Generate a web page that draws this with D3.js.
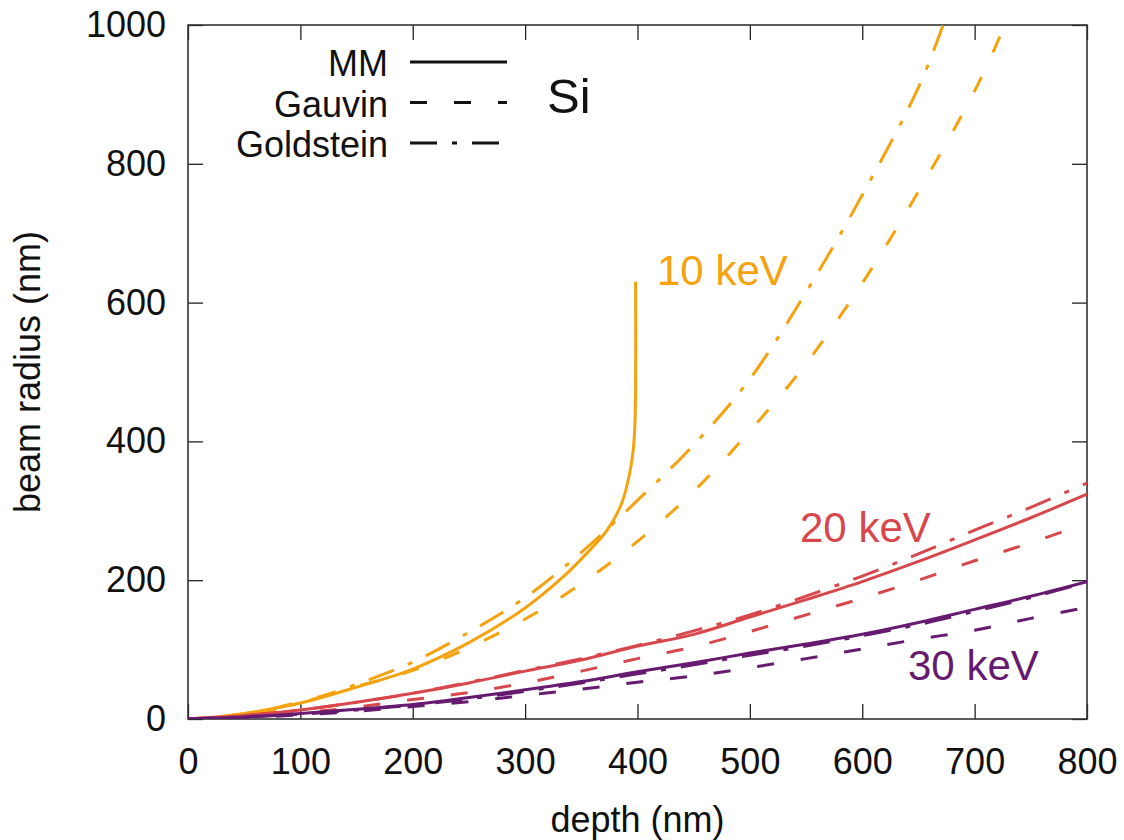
<!DOCTYPE html>
<html>
<head>
<meta charset="utf-8">
<script src="https://cdn.jsdelivr.net/npm/d3@7"></script>
<style>
  body { margin: 0; background: white; }
  text { font-family: "Liberation Sans", Arial, sans-serif; }
</style>
</head>
<body>
<div id="chart"></div>
<script>
// tick labels and categories
var xTicks = [0, 100, 200, 300, 400, 500, 600, 700, 800];
var yTicks = [0, 200, 400, 600, 800, 1000];
var energies = ["10 keV", "20 keV", "30 keV"];
var models = ["MM", "Gauvin", "Goldstein"];

// 10 keV  (depth nm, beam radius nm)
var mm10 = [[0,0],[25,3],[50,8],[100,23],[150,46],[200,72],[250,110],[300,160],[334,205],[355,239],
            [373,272],[386,311],[393,354],[396,385],[397.6,420],[398.3,469],[398.3,630]];
var gauvin10 = [[0,0],[50,7],[100,25],[150,47],[200,70],[250,103],[300,144],[350,195],[400,256],
                [450,328],[500,415],[550,512],[600,628],[650,760],[700,905],[727,1000]];
var goldstein10 = [[0,0],[50,6],[100,23],[150,50],[200,82],[250,125],[300,175],[350,240],[400,315],
                   [450,395],[500,490],[550,615],[600,755],[650,910],[672,1000]];

// 20 keV
var mm20 = [[0,0],[50,5],[100,13],[150,24],[200,37],[250,52],[300,69],[350,85],[400,105],[450,122],
            [500,147],[550,172],[600,198],[650,227],[700,258],[750,290],[800,324]];
var gauvin20 = [[0,0],[50,3],[100,9],[150,17],[200,28],[250,38],[300,52],[350,69],[400,87],[450,104],
                [500,126],[550,150],[600,174],[650,200],[700,228],[750,254],[800,282]];
var goldstein20 = [[0,0],[50,5],[100,13],[150,24],[200,37],[250,53],[300,70],[350,87],[400,106],[450,127],
                   [500,150],[550,177],[600,206],[650,238],[700,272],[750,305],[800,340]];

// 30 keV
var mm30 = [[0,0],[50,3],[100,8],[150,14],[200,21],[250,31],[300,42],[350,54],[400,68],[450,81],
            [500,95],[550,108],[600,122],[650,139],[700,158],[750,177],[800,198]];
var gauvin30 = [[0,0],[50,2],[100,6],[150,11],[200,18],[250,25],[300,34],[350,43],[400,53],[450,62],
                [500,74],[550,87],[600,101],[650,115],[700,128],[750,145],[800,161]];
var goldstein30 = [[0,0],[50,3],[100,7],[150,13],[200,20],[250,29],[300,40],[350,52],[400,65],[450,78],
                   [500,92],[550,105],[600,120],[650,136],[700,155],[750,175],[800,197]];

var series = [
  { energy: "10 keV", model: "MM", values: mm10 },
  { energy: "10 keV", model: "Gauvin", values: gauvin10 },
  { energy: "10 keV", model: "Goldstein", values: goldstein10 },
  { energy: "20 keV", model: "MM", values: mm20 },
  { energy: "20 keV", model: "Gauvin", values: gauvin20 },
  { energy: "20 keV", model: "Goldstein", values: goldstein20 },
  { energy: "30 keV", model: "MM", values: mm30 },
  { energy: "30 keV", model: "Gauvin", values: gauvin30 },
  { energy: "30 keV", model: "Goldstein", values: goldstein30 }
];

var colour = d3.scaleOrdinal().domain(energies).range(["#f5a20e", "#d7474c", "#661b70"]);
var dash = d3.scaleOrdinal().domain(models).range(["none", "17,27", "27,15,5,15"]);

var width = 1124, height = 840;
var plotLeft = 188, plotRight = 1087, plotTop = 25, plotBottom = 719;

var x = d3.scaleLinear().domain([0, 800]).range([plotLeft, plotRight]);
var y = d3.scaleLinear().domain([0, 1000]).range([plotBottom, plotTop]);

var svg = d3.select("#chart").append("svg")
            .attr("width", width)
            .attr("height", height)
            .attr("display", "block");

svg.append("clipPath").attr("id", "plot-clip")
   .append("rect")
   .attr("x", plotLeft).attr("y", plotTop)
   .attr("width", plotRight - plotLeft).attr("height", plotBottom - plotTop);

function styleAxis(g) {
  g.select(".domain").remove();
  g.selectAll("text").attr("font-size", 36).attr("fill", "#111")
   .style("font-family", "'Liberation Sans', Arial, sans-serif");
  g.selectAll("line").attr("stroke", "#222").attr("stroke-width", 1.3);
}

// axes, ticks pointing inward, mirrored on all four sides
var tickLen = 15;
svg.append("g")
   .attr("transform", "translate(0," + plotBottom + ")")
   .call(d3.axisBottom(x).tickValues(xTicks).tickFormat(d3.format("d"))
           .tickSizeInner(-tickLen).tickSizeOuter(0).tickPadding(29))
   .call(styleAxis);
svg.append("g")
   .attr("transform", "translate(0," + plotTop + ")")
   .call(d3.axisTop(x).tickValues(xTicks).tickSizeInner(-tickLen).tickSizeOuter(0).tickFormat(""))
   .call(styleAxis);
svg.append("g")
   .attr("transform", "translate(" + plotLeft + ",0)")
   .call(d3.axisLeft(y).tickValues(yTicks).tickFormat(d3.format("d"))
           .tickSizeInner(-tickLen).tickSizeOuter(0).tickPadding(22))
   .call(styleAxis);
svg.append("g")
   .attr("transform", "translate(" + plotRight + ",0)")
   .call(d3.axisRight(y).tickValues(yTicks).tickSizeInner(-tickLen).tickSizeOuter(0).tickFormat(""))
   .call(styleAxis);

svg.append("rect")
   .attr("x", plotLeft).attr("y", plotTop)
   .attr("width", plotRight - plotLeft).attr("height", plotBottom - plotTop)
   .attr("fill", "none")
   .attr("stroke", "#333")
   .attr("stroke-width", 1.6);

// curves
var line = d3.line()
             .x(function (d) { return x(d[0]); })
             .y(function (d) { return y(d[1]); })
             .curve(d3.curveCatmullRom.alpha(0.5));

svg.append("g")
   .attr("clip-path", "url(#plot-clip)")
   .selectAll("path")
   .data(series)
   .enter()
   .append("path")
   .attr("d", function (d) { return line(d.values); })
   .attr("fill", "none")
   .attr("stroke", function (d) { return colour(d.energy); })
   .attr("stroke-width", 3)
   .attr("stroke-dasharray", function (d) { return dash(d.model); });

// energy labels
var energyLabels = [
  { text: "10 keV", x: 657, y: 285 },
  { text: "20 keV", x: 800, y: 542 },
  { text: "30 keV", x: 908, y: 680 }
];
svg.selectAll(".energy-label")
   .data(energyLabels)
   .enter()
   .append("text")
   .attr("class", "energy-label")
   .attr("x", function (d) { return d.x; })
   .attr("y", function (d) { return d.y; })
   .attr("font-size", 42)
   .attr("fill", function (d) { return colour(d.text); })
   .text(function (d) { return d.text; });

// legend
var legend = svg.selectAll(".legend")
                .data(models)
                .enter()
                .append("g")
                .attr("class", "legend")
                .attr("transform", function (d, i) { return "translate(0," + (i * 40.5) + ")"; });
legend.append("text")
      .attr("x", 388).attr("y", 76)
      .attr("text-anchor", "end")
      .attr("font-size", 36)
      .attr("fill", "#111")
      .text(function (d) { return d; });
legend.append("line")
      .attr("x1", 410).attr("x2", 507)
      .attr("y1", 62).attr("y2", 62)
      .attr("stroke", "#111")
      .attr("stroke-width", 3)
      .attr("stroke-dasharray", function (d) { return dash(d); });

svg.append("text")
   .attr("x", 547).attr("y", 113)
   .attr("font-size", 49)
   .attr("fill", "#111")
   .text("Si");

// axis titles
svg.append("text")
   .attr("x", (plotLeft + plotRight) / 2).attr("y", 832)
   .attr("text-anchor", "middle")
   .attr("font-size", 36)
   .attr("fill", "#111")
   .text("depth (nm)");
svg.append("text")
   .attr("transform", "translate(40," + ((plotTop + plotBottom) / 2) + ") rotate(-90)")
   .attr("text-anchor", "middle")
   .attr("font-size", 36)
   .attr("fill", "#111")
   .text("beam radius (nm)");
</script>
</body>
</html>
